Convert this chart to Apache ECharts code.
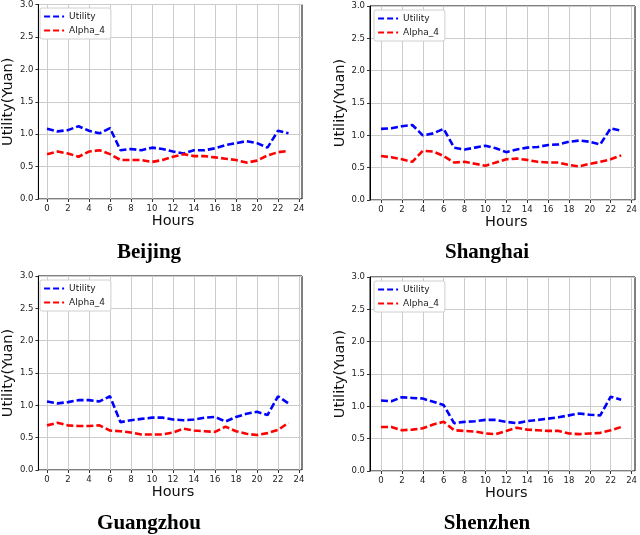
<!DOCTYPE html>
<html>
<head>
<meta charset="utf-8">
<script src="https://cdn.jsdelivr.net/npm/echarts@6/dist/echarts.min.js"></script>
<style>html,body{margin:0;padding:0;background:#fff;}#c{width:640px;height:535px;}</style>
</head>
<body>
<div id="c"></div>
<script>
const cities = ['Beijing', 'Shanghai', 'Guangzhou', 'Shenzhen'];
const hours = [0,1,2,3,4,5,6,7,8,9,10,11,12,13,14,15,16,17,18,19,20,21,22,23];
const xTicks = [0,2,4,6,8,10,12,14,16,18,20,22,24];
const yTicks = [0.0,0.5,1.0,1.5,2.0,2.5,3.0];

const utilityBeijing   = [1.08,1.04,1.06,1.12,1.05,1.01,1.09,0.75,0.77,0.75,0.79,0.77,0.73,0.70,0.75,0.75,0.78,0.83,0.86,0.89,0.86,0.79,1.05,1.01];
const alphaBeijing     = [0.69,0.73,0.70,0.65,0.73,0.75,0.69,0.60,0.60,0.60,0.57,0.60,0.65,0.69,0.66,0.66,0.64,0.62,0.60,0.56,0.59,0.67,0.72,0.74];
const utilityShanghai  = [1.10,1.11,1.14,1.16,1.00,1.03,1.10,0.81,0.78,0.81,0.84,0.80,0.74,0.78,0.81,0.82,0.85,0.86,0.90,0.92,0.90,0.86,1.11,1.07];
const alphaShanghai    = [0.68,0.66,0.63,0.59,0.76,0.75,0.68,0.58,0.59,0.56,0.53,0.58,0.63,0.64,0.62,0.59,0.58,0.58,0.54,0.52,0.56,0.59,0.63,0.69];
const utilityGuangzhou = [1.06,1.03,1.05,1.08,1.08,1.06,1.14,0.74,0.77,0.79,0.81,0.81,0.78,0.77,0.78,0.81,0.82,0.75,0.82,0.87,0.90,0.85,1.14,1.03];
const alphaGuangzhou   = [0.69,0.73,0.69,0.68,0.68,0.69,0.61,0.60,0.58,0.55,0.55,0.55,0.58,0.64,0.61,0.60,0.59,0.67,0.60,0.56,0.54,0.57,0.62,0.73];
const utilityShenzhen  = [1.09,1.08,1.14,1.13,1.12,1.07,1.02,0.74,0.76,0.77,0.79,0.79,0.76,0.74,0.77,0.79,0.81,0.83,0.86,0.89,0.87,0.86,1.15,1.10];
const alphaShenzhen    = [0.68,0.68,0.63,0.64,0.66,0.72,0.76,0.63,0.62,0.61,0.58,0.57,0.62,0.67,0.64,0.63,0.62,0.62,0.58,0.57,0.58,0.59,0.63,0.68];

const utilitySets = [utilityBeijing, utilityShanghai, utilityGuangzhou, utilityShenzhen];
const alphaSets = [alphaBeijing, alphaShanghai, alphaGuangzhou, alphaShenzhen];

// layout of the four subplot frames
const frames = [
  {left: 36, top: 4, width: 266, height: 195, title: [144, 237]},
  {left: 370, top: 6, width: 265, height: 194, title: [482, 237]},
  {left: 36, top: 276, width: 266, height: 194, title: [144, 508]},
  {left: 370, top: 277, width: 265, height: 194, title: [482, 508]}
];

const grid = [], xAxis = [], yAxis = [], series = [], legend = [], title = [];
const gridColor = '#cccccc';
const labelFont = 'DejaVu Sans';

frames.forEach((f, k) => {
  // frame grid (border + y axis + horizontal grid)
  grid.push({left: f.left, top: f.top, width: f.width, height: f.height, show: true, borderColor: '#000', borderWidth: 1, backgroundColor: 'transparent'});
  // data grid: x from 0 to 24
  grid.push({left: f.left + 11, top: f.top, width: 252, height: f.height, show: false});
  const gF = 2 * k, gD = 2 * k + 1;
  xAxis.push({gridIndex: gF, type: 'value', min: 0, max: 1, show: false});
  yAxis.push({
    gridIndex: gF, type: 'value', min: 0, max: 3, interval: 0.5,
    name: 'Utility(Yuan)', nameLocation: 'middle', nameGap: 22,
    nameTextStyle: {fontFamily: labelFont, fontSize: 14.5, color: '#111'},
    axisLine: {show: true, lineStyle: {color: '#000', width: 1}},
    axisTick: {show: true, length: 3, lineStyle: {color: '#333'}},
    axisLabel: {fontFamily: labelFont, fontSize: 8.5, color: '#222', margin: 5, formatter: v => v.toFixed(1)},
    splitLine: {show: true, lineStyle: {color: gridColor, width: 1}}
  });
  xAxis.push({
    gridIndex: gD, type: 'value', min: 0, max: 24, interval: 2,
    name: 'Hours', nameLocation: 'middle', nameGap: 14,
    nameTextStyle: {fontFamily: labelFont, fontSize: 14.5, color: '#111'},
    axisLine: {show: false},
    axisTick: {show: true, length: 3, lineStyle: {color: '#333'}},
    axisLabel: {fontFamily: labelFont, fontSize: 8.5, color: '#222', margin: 5},
    splitLine: {show: true, lineStyle: {color: gridColor, width: 1}}
  });
  yAxis.push({gridIndex: gD, type: 'value', min: 0, max: 3, show: false});

  const axisIdx = 2 * k + 1;
  series.push({
    name: 'Utility', type: 'line', xAxisIndex: axisIdx, yAxisIndex: axisIdx,
    data: hours.map((h, i) => [h, utilitySets[k][i]]),
    symbol: 'none', color: '#0000ff',
    lineStyle: {color: '#0000ff', width: 2.6, type: [7, 3]}, z: 3
  });
  series.push({
    name: 'Alpha_4', type: 'line', xAxisIndex: axisIdx, yAxisIndex: axisIdx,
    data: hours.map((h, i) => [h, alphaSets[k][i]]),
    symbol: 'none', color: '#ff0000',
    lineStyle: {color: '#ff0000', width: 2.6, type: [7, 3]}, z: 3
  });

  legend.push({
    left: f.left + 4, top: f.top + 4, orient: 'vertical',
    data: ['Utility', 'Alpha_4'],
    itemWidth: 20, itemHeight: 8, itemGap: 5,
    padding: [4, 6, 4, 3],
    borderColor: '#d0d0d0', borderWidth: 1, borderRadius: 2,
    backgroundColor: '#fff',
    itemStyle: {opacity: 0},
    lineStyle: {width: 2.2, type: [6, 3]},
    textStyle: {fontFamily: labelFont, fontSize: 9, color: '#222'},
    selectedMode: false
  });

  title.push({
    text: cities[k], left: f.title[0], top: f.title[1], textAlign: 'center',
    textStyle: {fontFamily: 'Liberation Serif', fontWeight: 'bold', fontSize: 21, color: '#000'}
  });
});

const chart = echarts.init(document.getElementById('c'), null, {renderer: 'canvas'});
chart.setOption({
  animation: false,
  backgroundColor: '#fff',
  title, grid, xAxis, yAxis, legend, series
});
</script>
</body>
</html>
